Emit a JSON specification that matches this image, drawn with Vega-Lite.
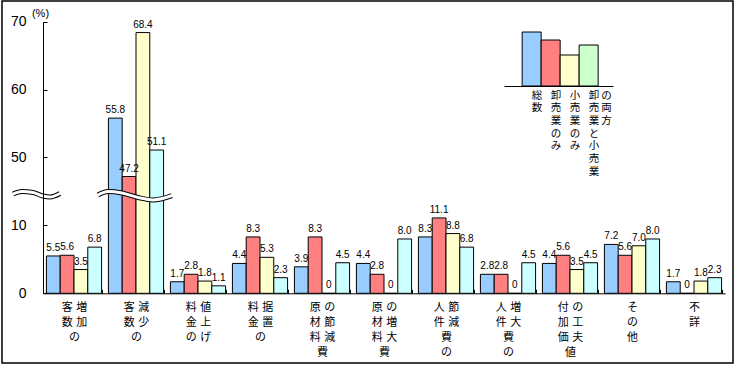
{
  "$schema": "https://vega.github.io/schema/vega-lite/v6.json",
  "width": 731,
  "height": 362,
  "autosize": {"type": "none"},
  "padding": {"left": 2, "top": 1, "right": 2, "bottom": 3},
  "background": "#ffffff",
  "config": {
    "view": {"stroke": "#000000", "strokeWidth": 1.5},
    "font": "Liberation Sans"
  },
  "datasets": {
    "main": [
      {"cat": "客数の増加", "series": "総数", "v": 5.5},
      {"cat": "客数の増加", "series": "卸売業のみ", "v": 5.6},
      {"cat": "客数の増加", "series": "小売業のみ", "v": 3.5},
      {"cat": "客数の増加", "series": "卸売業と小売業の両方", "v": 6.8},
      {"cat": "客数の減少", "series": "総数", "v": 55.8},
      {"cat": "客数の減少", "series": "卸売業のみ", "v": 47.2},
      {"cat": "客数の減少", "series": "小売業のみ", "v": 68.4},
      {"cat": "客数の減少", "series": "卸売業と小売業の両方", "v": 51.1},
      {"cat": "料金の値上げ", "series": "総数", "v": 1.7},
      {"cat": "料金の値上げ", "series": "卸売業のみ", "v": 2.8},
      {"cat": "料金の値上げ", "series": "小売業のみ", "v": 1.8},
      {"cat": "料金の値上げ", "series": "卸売業と小売業の両方", "v": 1.1},
      {"cat": "料金の据置", "series": "総数", "v": 4.4},
      {"cat": "料金の据置", "series": "卸売業のみ", "v": 8.3},
      {"cat": "料金の据置", "series": "小売業のみ", "v": 5.3},
      {"cat": "料金の据置", "series": "卸売業と小売業の両方", "v": 2.3},
      {"cat": "原材料費の節減", "series": "総数", "v": 3.9},
      {"cat": "原材料費の節減", "series": "卸売業のみ", "v": 8.3},
      {"cat": "原材料費の節減", "series": "小売業のみ", "v": 0},
      {"cat": "原材料費の節減", "series": "卸売業と小売業の両方", "v": 4.5},
      {"cat": "原材料費の増大", "series": "総数", "v": 4.4},
      {"cat": "原材料費の増大", "series": "卸売業のみ", "v": 2.8},
      {"cat": "原材料費の増大", "series": "小売業のみ", "v": 0},
      {"cat": "原材料費の増大", "series": "卸売業と小売業の両方", "v": 8.0},
      {"cat": "人件費の節減", "series": "総数", "v": 8.3},
      {"cat": "人件費の節減", "series": "卸売業のみ", "v": 11.1},
      {"cat": "人件費の節減", "series": "小売業のみ", "v": 8.8},
      {"cat": "人件費の節減", "series": "卸売業と小売業の両方", "v": 6.8},
      {"cat": "人件費の増大", "series": "総数", "v": 2.8},
      {"cat": "人件費の増大", "series": "卸売業のみ", "v": 2.8},
      {"cat": "人件費の増大", "series": "小売業のみ", "v": 0},
      {"cat": "人件費の増大", "series": "卸売業と小売業の両方", "v": 4.5},
      {"cat": "付加価値の工夫", "series": "総数", "v": 4.4},
      {"cat": "付加価値の工夫", "series": "卸売業のみ", "v": 5.6},
      {"cat": "付加価値の工夫", "series": "小売業のみ", "v": 3.5},
      {"cat": "付加価値の工夫", "series": "卸売業と小売業の両方", "v": 4.5},
      {"cat": "その他", "series": "総数", "v": 7.2},
      {"cat": "その他", "series": "卸売業のみ", "v": 5.6},
      {"cat": "その他", "series": "小売業のみ", "v": 7.0},
      {"cat": "その他", "series": "卸売業と小売業の両方", "v": 8.0},
      {"cat": "不詳", "series": "総数", "v": 1.7},
      {"cat": "不詳", "series": "卸売業のみ", "v": 0},
      {"cat": "不詳", "series": "小売業のみ", "v": 1.8},
      {"cat": "不詳", "series": "卸売業と小売業の両方", "v": 2.3}
    ],
    "waves": [
      {"seg": "axis", "u": -0.484, "v": 14.62},
      {"seg": "axis", "u": -0.339, "v": 14.99},
      {"seg": "axis", "u": -0.161, "v": 14.85},
      {"seg": "axis", "u": 0.0, "v": 14.33},
      {"seg": "axis", "u": 0.113, "v": 14.18},
      {"seg": "axis", "u": 0.274, "v": 14.7},
      {"seg": "bars", "u": 0.887, "v": 14.48},
      {"seg": "bars", "u": 1.048, "v": 14.98},
      {"seg": "bars", "u": 1.274, "v": 14.77},
      {"seg": "bars", "u": 1.532, "v": 14.11},
      {"seg": "bars", "u": 1.774, "v": 13.74},
      {"seg": "bars", "u": 2.081, "v": 14.4}
    ],
    "legend": [
      {"series": "総数", "h": 54},
      {"series": "卸売業のみ", "h": 46},
      {"series": "小売業のみ", "h": 31},
      {"series": "卸売業と小売業の両方", "h": 41}
    ]
  },
  "layer": [
    {
      "data": {"name": "main"},
      "transform": [
        {"calculate": "datum.v == 0 ? '0' : format(datum.v, '.1f')", "as": "lab"}
      ],
      "encoding": {
        "x": {
          "field": "cat",
          "type": "nominal",
          "sort": null,
          "scale": {
            "domain": ["客数の増加", "客数の減少", "料金の値上げ", "料金の据置", "原材料費の節減", "原材料費の増大", "人件費の節減", "人件費の増大", "付加価値の工夫", "その他", "不詳"],
            "range": [41, 723],
            "paddingInner": 0.11,
            "paddingOuter": 0.055
          },
          "axis": {
            "orient": "bottom",
            "offset": -69.7,
            "title": null,
            "tickBand": "extent",
            "tickSize": -4,
            "tickColor": "#000000",
            "domainColor": "#000000",
            "labelAngle": 0,
            "labelAlign": "center",
            "labelBaseline": "top",
            "labelPadding": 12,
            "labelDx": -6,
            "labelLineHeight": 15,
            "labelFont": "Noto Sans CJK JP",
            "labelFontSize": 11,
            "labelColor": "#000000",
            "labelOverlap": false,
            "labelFlush": false,
            "labelExpr": "{'客数の増加':['客\u2004増','数\u2004加','の\u2004\u3000'],'客数の減少':['客\u2004減','数\u2004少','の\u2004\u3000'],'料金の値上げ':['料\u2004値','金\u2004上','の\u2004げ'],'料金の据置':['料\u2004据','金\u2004置','の\u2004\u3000'],'原材料費の節減':['原\u2004の','材\u2004節','料\u2004減','費\u2004\u3000'],'原材料費の増大':['原\u2004の','材\u2004増','料\u2004大','費\u2004\u3000'],'人件費の節減':['人\u2004節','件\u2004減','費\u2004\u3000','の\u2004\u3000'],'人件費の増大':['人\u2004増','件\u2004大','費\u2004\u3000','の\u2004\u3000'],'付加価値の工夫':['付\u2004の','加\u2004工','価\u2004夫','値\u2004\u3000'],'その他':['そ','の','他'],'不詳':['不','詳']}[datum.value]"
          }
        },
        "xOffset": {
          "field": "series",
          "type": "nominal",
          "scale": {
            "domain": ["総数", "卸売業のみ", "小売業のみ", "卸売業と小売業の両方"],
            "paddingInner": 0,
            "paddingOuter": 0
          }
        },
        "y": {
          "field": "v",
          "type": "quantitative",
          "scale": {
            "domain": [0, 15, 45, 70],
            "range": [292.3, 190.45, 190.45, 20.7],
            "nice": false,
            "zero": false
          },
          "axis": {
            "values": [0, 10, 50, 60, 70],
            "offset": -41,
            "zindex": 1,
            "grid": false,
            "tickSize": -4,
            "tickColor": "#000000",
            "domainColor": "#000000",
            "labelPadding": 21,
            "labelFontSize": 14,
            "labelColor": "#000000",
            "title": "(%)",
            "titleAngle": 0,
            "titleX": -3,
            "titleY": 12,
            "titleAlign": "center",
            "titleBaseline": "middle",
            "titleFontWeight": "normal",
            "titleFontSize": 11,
            "titleColor": "#000000"
          }
        },
        "color": {
          "field": "series",
          "type": "nominal",
          "scale": {
            "domain": ["総数", "卸売業のみ", "小売業のみ", "卸売業と小売業の両方"],
            "range": ["#99CCFF", "#FF8080", "#FFFFCC", "#CCFFFF"]
          },
          "legend": null
        }
      },
      "layer": [
        {"mark": {"type": "bar", "stroke": "#000000", "strokeWidth": 1, "opacity": 1}},
        {
          "mark": {"type": "text", "baseline": "bottom", "dy": -3, "fontSize": 10, "font": "Liberation Sans", "color": "#000000"},
          "encoding": {"text": {"field": "lab"}, "color": {"value": "#000000"}}
        }
      ]
    },
    {
      "data": {"name": "waves"},
      "encoding": {
        "x": {
          "field": "u",
          "type": "quantitative",
          "scale": {"domain": [0, 11], "range": [41, 723], "nice": false, "zero": false},
          "axis": null
        },
        "y": {
          "field": "v",
          "type": "quantitative",
          "scale": {
            "domain": [0, 15, 45, 70],
            "range": [292.3, 190.45, 190.45, 20.7],
            "nice": false,
            "zero": false
          },
          "axis": null
        },
        "detail": {"field": "seg"}
      },
      "layer": [
        {"mark": {"type": "line", "color": "#000000", "strokeWidth": 5, "interpolate": "monotone", "strokeCap": "butt"}},
        {"mark": {"type": "line", "color": "#ffffff", "strokeWidth": 3, "interpolate": "monotone", "strokeCap": "square"}}
      ]
    },
    {
      "data": {"name": "legend"},
      "encoding": {
        "x": {
          "field": "series",
          "type": "nominal",
          "sort": null,
          "scale": {
            "domain": ["総数", "卸売業のみ", "小売業のみ", "卸売業と小売業の両方"],
            "range": [502, 611],
            "paddingInner": 0,
            "paddingOuter": 0.868,
            "align": 0.55
          },
          "axis": {
            "orient": "bottom",
            "offset": -277,
            "title": null,
            "ticks": false,
            "domainColor": "#000000",
            "labelAngle": 0,
            "labelAlign": "left",
            "labelBaseline": "top",
            "labelDx": -7,
            "labelPadding": 4,
            "labelLineHeight": 12.7,
            "labelFont": "Noto Sans CJK JP",
            "labelFontSize": 10.5,
            "labelColor": "#000000",
            "labelOverlap": false,
            "labelFlush": false,
            "labelExpr": "{'総数':['総','数'],'卸売業のみ':['卸','売','業','の','み'],'小売業のみ':['小','売','業','の','み'],'卸売業と小売業の両方':['卸\u2009の','売\u2009両','業\u2009方','と','小','売','業']}[datum.value]"
          }
        },
        "y": {
          "field": "h",
          "type": "quantitative",
          "scale": {"domain": [0, 54], "range": [85, 31], "nice": false, "zero": false},
          "axis": null
        },
        "color": {
          "field": "series",
          "type": "nominal",
          "scale": {
            "domain": ["総数", "卸売業のみ", "小売業のみ", "卸売業と小売業の両方"],
            "range": ["#99CCFF", "#FF8080", "#FFFFCC", "#CCFFCC"]
          },
          "legend": null
        }
      },
      "mark": {"type": "bar", "stroke": "#000000", "strokeWidth": 1, "opacity": 1}
    }
  ],
  "resolve": {
    "scale": {"x": "independent", "y": "independent", "color": "independent", "xOffset": "independent"}
  }
}
